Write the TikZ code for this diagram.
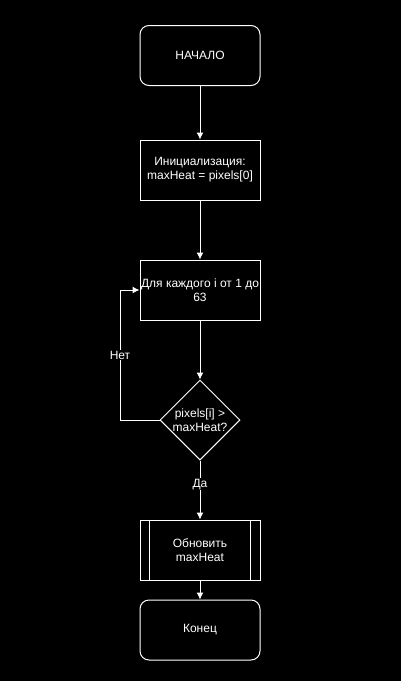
\documentclass[tikz,border=0pt]{standalone}
\usepackage{fontspec}
\setmainfont{Liberation Sans}
\usetikzlibrary{shapes.geometric,arrows.meta}
\begin{document}
\begin{tikzpicture}[x=1pt,y=-1pt,
  every node/.style={text=white,font=\fontsize{12}{14}\selectfont},
  box/.style={draw=white,line width=1pt,fill=black,minimum width=120pt,minimum height=60pt,align=center,inner sep=0pt},
  term/.style={box,rounded corners=9pt},
  dec/.style={draw=white,line width=1pt,fill=black,diamond,minimum width=80pt,minimum height=80pt,inner sep=0pt,align=center,aspect=1},
  arr/.style={draw=white,line width=1pt,-{Latex[length=7pt,width=7pt]}},
  lbl/.style={fill=black,inner sep=1pt}]
\fill[black] (0,0) rectangle (401,681);
\useasboundingbox (0,0) rectangle (401,681);
\node[term] (start) at (200,55.5) {НАЧАЛО};
\node[box] (init) at (200,170) {Инициализация:\\maxHeat = pixels[0]};
\node[box] (loop) at (200,290) {Для каждого i от 1 до\\63};
\node[dec] (cond) at (200,420) {pixels[i] >\\maxHeat?};
\node[box] (upd) at (200,550) {Обновить\\maxHeat};
\draw[white,line width=1pt] ([xshift=10pt]upd.north west) -- ([xshift=10pt]upd.south west)
  ([xshift=-10pt]upd.north east) -- ([xshift=-10pt]upd.south east);
\node[term] (end) at (200,630) {Конец};
\coordinate (c1) at (120,420);
\coordinate (c2) at (120,290);
\draw[arr] (start) -- (init);
\draw[arr] (init) -- (loop);
\draw[arr] (loop) -- (cond);
\draw[arr] (cond) -- node[lbl,pos=0.4]{Да} (upd);
\draw[arr] (upd) -- (end);
\draw[arr] (cond.west) -- (c1) -- node[lbl,pos=0.5]{Нет} (c2) -- (loop.west);
\end{tikzpicture}
\end{document}
